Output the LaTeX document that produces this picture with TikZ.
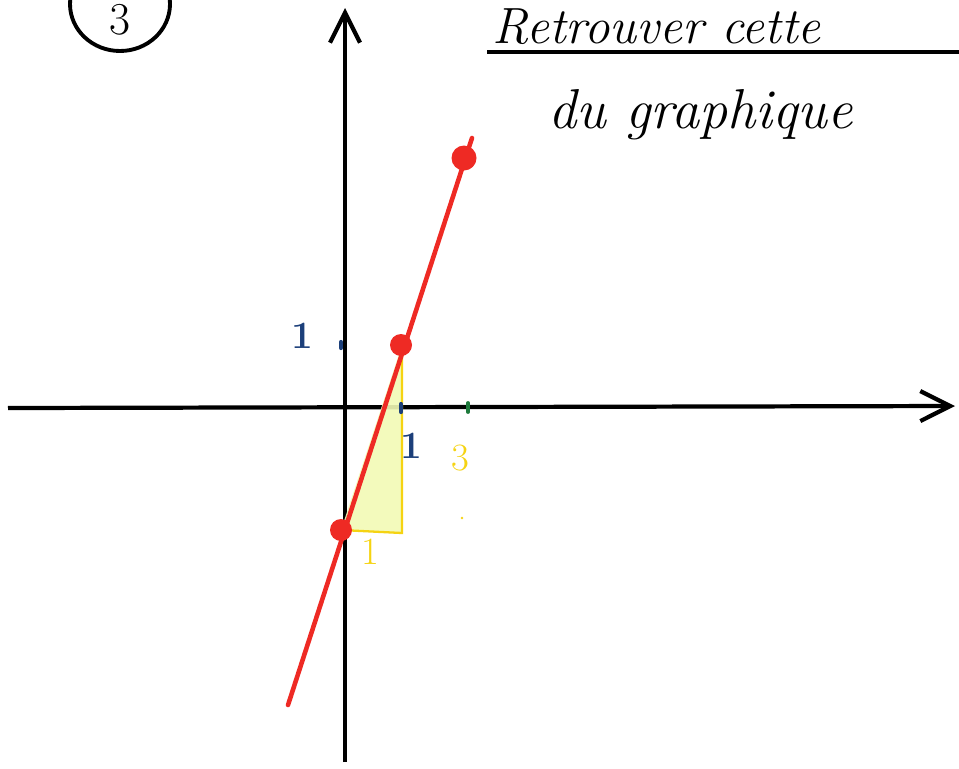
\documentclass[tikz,border=0pt]{standalone}
\usepackage{xcolor}
\usepackage{tikz}
\usetikzlibrary{arrows.meta,positioning}

\definecolor{penred}{HTML}{EE2A24}
\definecolor{penblue}{HTML}{1C3F7A}
\definecolor{penyellow}{HTML}{F5D312}
\definecolor{pengreen}{HTML}{1E7A3C}

\begin{document}
\begin{tikzpicture}[
  x=0.02cm, y=-0.02cm,
  axis/.style={line width=2.4pt, -{Straight Barb[length=6mm, width=6mm]}},
  redline/.style={line width=2.6pt, penred, line cap=round},
  reddot/.style={circle, fill=penred, inner sep=0pt, minimum size=4.4mm},
  bluelabel/.style={penblue, font=\fontsize{22}{24}\selectfont\bfseries},
  yellowlabel/.style={penyellow, font=\fontsize{22}{24}\selectfont},
  title/.style={font=\fontsize{32}{36}\selectfont\itshape, anchor=base west,
    inner sep=0pt}
]
\clip (0,0) rectangle (959,768);

% Axes
\coordinate (xStart) at (8,408);
\coordinate (xEnd) at (955,406);
\coordinate (yStart) at (345,762);
\coordinate (yEnd) at (345,8);
\draw[axis] (xStart) -- (xEnd);
\draw[axis] (yStart) -- (yEnd);

% Slope triangle
\coordinate (triA) at (341,530);
\coordinate (triB) at (402,533);
\coordinate (triC) at (402,345);
\fill[penyellow!40!lime!30, opacity=0.9] (triA) -- (triC) -- (triB) -- cycle;
\draw[penyellow, line width=1.3pt] (triA) -- (triB) -- (triC);

% Ticks
\draw[penblue, line width=2.4pt, line cap=round] (341,342) -- (341,348);
\draw[penblue, line width=2.4pt, line cap=round] (401,404) -- (401,412);
\draw[pengreen, line width=2.2pt, line cap=round] (468,403) -- (468,412);
\fill[penyellow] (462,518) circle (1.4);

% Red line and its points
\coordinate (lineLo) at (288,705);
\coordinate (lineHi) at (472,138);
\draw[redline] (lineLo) -- (lineHi);
\node[reddot] (ptA) at (341,530) {};
\node[reddot] (ptB) at (401,345) {};
\node[reddot, minimum width=5mm] (ptC) at (464,158) {};

% Labels
\node[bluelabel] (yOne) at (302,336) {1};
\node[bluelabel] (xOne) at (411,446) {1};
\node[yellowlabel] (runLbl) at (370,552) {1};
\node[yellowlabel] (riseLbl) at (460,458) {3};

% Exercise number
\draw[line width=2.2pt] (120,4) ellipse (50 and 47);
\node[font=\fontsize{26}{28}\selectfont] (exNum) at (120,20) {3};

% Title
\node[title, font=\fontsize{29}{32}\selectfont\itshape] (titleTop) at (492,43)
  {Retrouver cette};
\draw[line width=2.6pt] (487,52) -- (959,52);
\node[title] (titleBot) at (548,128) {du graphique};
\end{tikzpicture}
\end{document}
